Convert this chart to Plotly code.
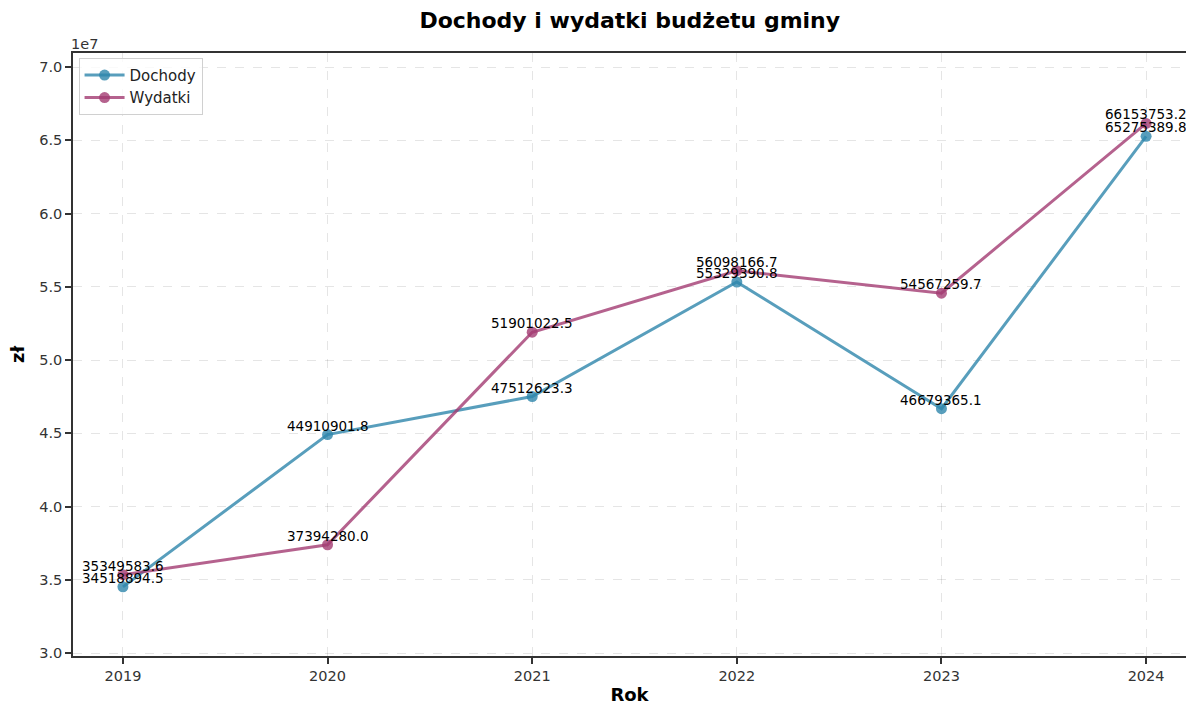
import plotly.graph_objects as go

years = [2019, 2020, 2021, 2022, 2023, 2024]
dochody = [34518894.5, 44910901.8, 47512623.3, 55329390.8, 46679365.1, 65275389.8]
wydatki = [35349583.6, 37394280.0, 51901022.5, 56098166.7, 54567259.7, 66153753.2]
ytick_vals = [3.0e7, 3.5e7, 4.0e7, 4.5e7, 5.0e7, 5.5e7, 6.0e7, 6.5e7, 7.0e7]
ytick_text = ["3.0", "3.5", "4.0", "4.5", "5.0", "5.5", "6.0", "6.5", "7.0"]

c_doch = "rgba(46,134,171,0.8)"
c_wyd = "rgba(162,59,114,0.8)"
FONT = "DejaVu Sans"
AX = "#333333"

fig = go.Figure()
fig.add_trace(go.Scatter(x=years, y=dochody, mode="lines+markers", name="Dochody",
                         line=dict(color=c_doch, width=3), marker=dict(size=11, color=c_doch)))
fig.add_trace(go.Scatter(x=years, y=wydatki, mode="lines+markers", name="Wydatki",
                         line=dict(color=c_wyd, width=3), marker=dict(size=11, color=c_wyd)))

for series in (dochody, wydatki):
    for x, y in zip(years, series):
        fig.add_annotation(x=x, y=y, text=f"{y:.1f}", showarrow=False, yanchor="bottom",
                           xanchor="center", yshift=-1,
                           font=dict(family=FONT, size=13.5, color="black"))

fig.add_annotation(xref="paper", yref="paper", x=0, y=1, xanchor="left", yanchor="bottom",
                   text="1e7", showarrow=False, yshift=-1, xshift=-4,
                   font=dict(family=FONT, size=14.5, color=AX))

fig.update_layout(
    width=1186, height=705,
    margin=dict(l=73, r=0, t=53, b=49),
    plot_bgcolor="white", paper_bgcolor="white",
    font=dict(family=FONT, size=14.5, color=AX),
    title=dict(text="<b>Dochody i wydatki budżetu gminy</b>", x=0.531, xanchor="center",
               y=0.971, yanchor="middle", font=dict(family=FONT, size=22, color="black")),
    legend=dict(x=0.005, y=0.992, xanchor="left", yanchor="top", bgcolor="rgba(255,255,255,0.8)",
                bordercolor="#d0d0d0", borderwidth=1, itemwidth=40, tracegroupgap=0,
                font=dict(family=FONT, size=15, color="#222")),
    showlegend=True,
)
fig.update_xaxes(range=[2018.756, 2024.195], tickvals=years, ticktext=[str(y) for y in years],
                 showline=True, linecolor=AX, linewidth=1.5, mirror=True,
                 ticks="outside", ticklen=6, tickcolor=AX, tickwidth=1.5,
                 showgrid=True, gridcolor="rgba(0,0,0,0.1)", griddash="dash", zeroline=False,
                 title=dict(text="<b>Rok</b>", font=dict(family=FONT, size=18, color="black"), standoff=5))
fig.update_yaxes(range=[2.98e7, 7.096e7], tickvals=ytick_vals, ticktext=ytick_text,
                 showline=True, linecolor=AX, linewidth=1.5,
                 ticks="outside", ticklen=6, tickcolor=AX, tickwidth=1.5,
                 showgrid=True, gridcolor="rgba(0,0,0,0.1)", griddash="dash", zeroline=False,
                 title=dict(text="<b>zł</b>", font=dict(family=FONT, size=18, color="black"), standoff=10))

fig.write_html("out.html", config={"displayModeBar": False},
               post_script="document.body.style.margin='0';document.body.style.overflow='hidden';")
